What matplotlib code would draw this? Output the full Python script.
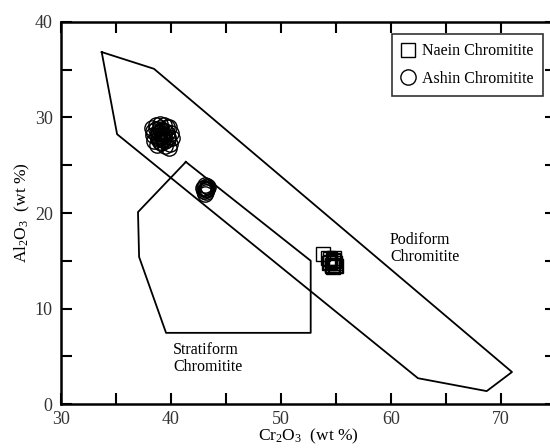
import matplotlib
matplotlib.use("Agg")
import matplotlib.pyplot as plt
from matplotlib.ticker import MultipleLocator

plt.rcParams['font.family'] = ['Liberation Serif', 'DejaVu Serif']
plt.rcParams['mathtext.fontset'] = 'custom'
plt.rcParams['mathtext.rm'] = 'Liberation Serif'
plt.rcParams['mathtext.it'] = 'Liberation Serif:italic'
plt.rcParams['mathtext.default'] = 'regular'

# Field outlines (Cr2O3, Al2O3)
podiform_x = [33.7, 38.45, 71.0, 68.7, 62.45, 35.1]
podiform_y = [36.85, 35.1, 3.35, 1.35, 2.7, 28.25]
stratiform_x = [41.35, 52.7, 52.7, 39.55, 37.1, 37.0]
stratiform_y = [25.35, 15.0, 7.45, 7.45, 15.4, 20.1]

# Naein chromitite (squares)
naein_cr = [53.85, 54.3, 54.5, 54.7, 54.9, 54.6, 54.8, 55.0, 54.4, 54.7,
            54.5, 54.9, 54.6, 54.8]
naein_al = [15.75, 15.3, 14.9, 15.1, 14.6, 14.4, 15.0, 14.5, 14.8, 14.3,
            15.2, 14.8, 14.6, 15.3]

# Ashin chromitite (circles)
ashin_cr = [38.3, 38.6, 39.0, 39.4, 39.8, 40.0, 38.4, 38.8, 39.2, 39.6, 40.1,
            38.5, 38.9, 39.3, 39.7, 38.7, 39.1, 39.5, 39.9, 39.8,
            38.6, 38.9, 39.2, 39.5, 39.3, 39.0, 39.4, 38.8, 39.6, 39.1,
            38.4, 39.7, 39.5, 38.7, 39.2, 39.0,
            42.9, 43.1, 43.3, 43.2, 43.0, 43.4, 43.1, 43.2, 43.3, 43.0, 43.2]
ashin_al = [28.9, 29.2, 29.3, 29.2, 29.0, 28.4, 28.2, 28.5, 28.7, 28.4, 27.9,
            27.5, 27.9, 27.6, 27.8, 27.1, 27.3, 27.0, 27.2, 26.8,
            28.8, 28.4, 28.0, 28.6, 27.7, 28.9, 28.2, 27.8, 29.0, 28.6,
            28.6, 28.0, 27.5, 28.1, 28.3, 27.4,
            22.6, 22.9, 22.5, 22.2, 22.3, 22.7, 22.0, 22.4, 22.8, 22.6, 22.5]

fig = plt.figure(figsize=(5.5, 4.48), dpi=100)
ax = fig.add_axes([61/550, 44/448, 495/550, 382/448])

ax.plot(podiform_x + podiform_x[:1], podiform_y + podiform_y[:1], color='black', lw=1.3)
ax.plot(stratiform_x + stratiform_x[:1], stratiform_y + stratiform_y[:1], color='black', lw=1.3)

ax.plot(naein_cr, naein_al, linestyle='none', marker='s', markersize=9.5,
        markerfacecolor='none', markeredgecolor='black', markeredgewidth=1.0,
        label='Naein Chromitite')
ax.plot(ashin_cr, ashin_al, linestyle='none', marker='o', markersize=11,
        markerfacecolor='none', markeredgecolor='black', markeredgewidth=1.0,
        label='Ashin Chromitite')

ax.text(59.9, 18.0, 'Podiform\nChromitite', fontsize=11.5, va='top', ha='left',
        linespacing=1.05)
ax.text(40.2, 6.45, 'Stratiform\nChromitite', fontsize=11.5, va='top', ha='left',
        linespacing=1.05)

ax.set_xlim(30, 75)
ax.set_ylim(0, 40)
ax.xaxis.set_major_locator(MultipleLocator(10))
ax.xaxis.set_minor_locator(MultipleLocator(5))
ax.yaxis.set_major_locator(MultipleLocator(10))
ax.yaxis.set_minor_locator(MultipleLocator(5))
ax.tick_params(which='both', direction='in', top=True, right=True, width=1.5,
               labelsize=13, labelcolor='#333333')
ax.tick_params(axis='x', pad=5)
ax.tick_params(axis='y', pad=6)
ax.tick_params(which='major', length=8)
ax.tick_params(which='minor', length=8)
for s in ax.spines.values():
    s.set_linewidth(1.8)

ax.set_xlabel(r'Cr$_2$O$_3$  (wt %)', fontsize=12.5, labelpad=-1)
ax.set_ylabel(r'Al$_2$O$_3$  (wt %)', fontsize=12.5, labelpad=2)

leg = ax.legend(loc='upper left', bbox_to_anchor=(331/495, 1 - 12/382),
                fontsize=11.5, frameon=True, fancybox=False, edgecolor='black',
                handlelength=0.9, handletextpad=0.4, borderpad=0.58,
                labelspacing=0.72, borderaxespad=0)
leg.get_frame().set_linewidth(1.2)

fig.savefig('out.png', dpi=100)
